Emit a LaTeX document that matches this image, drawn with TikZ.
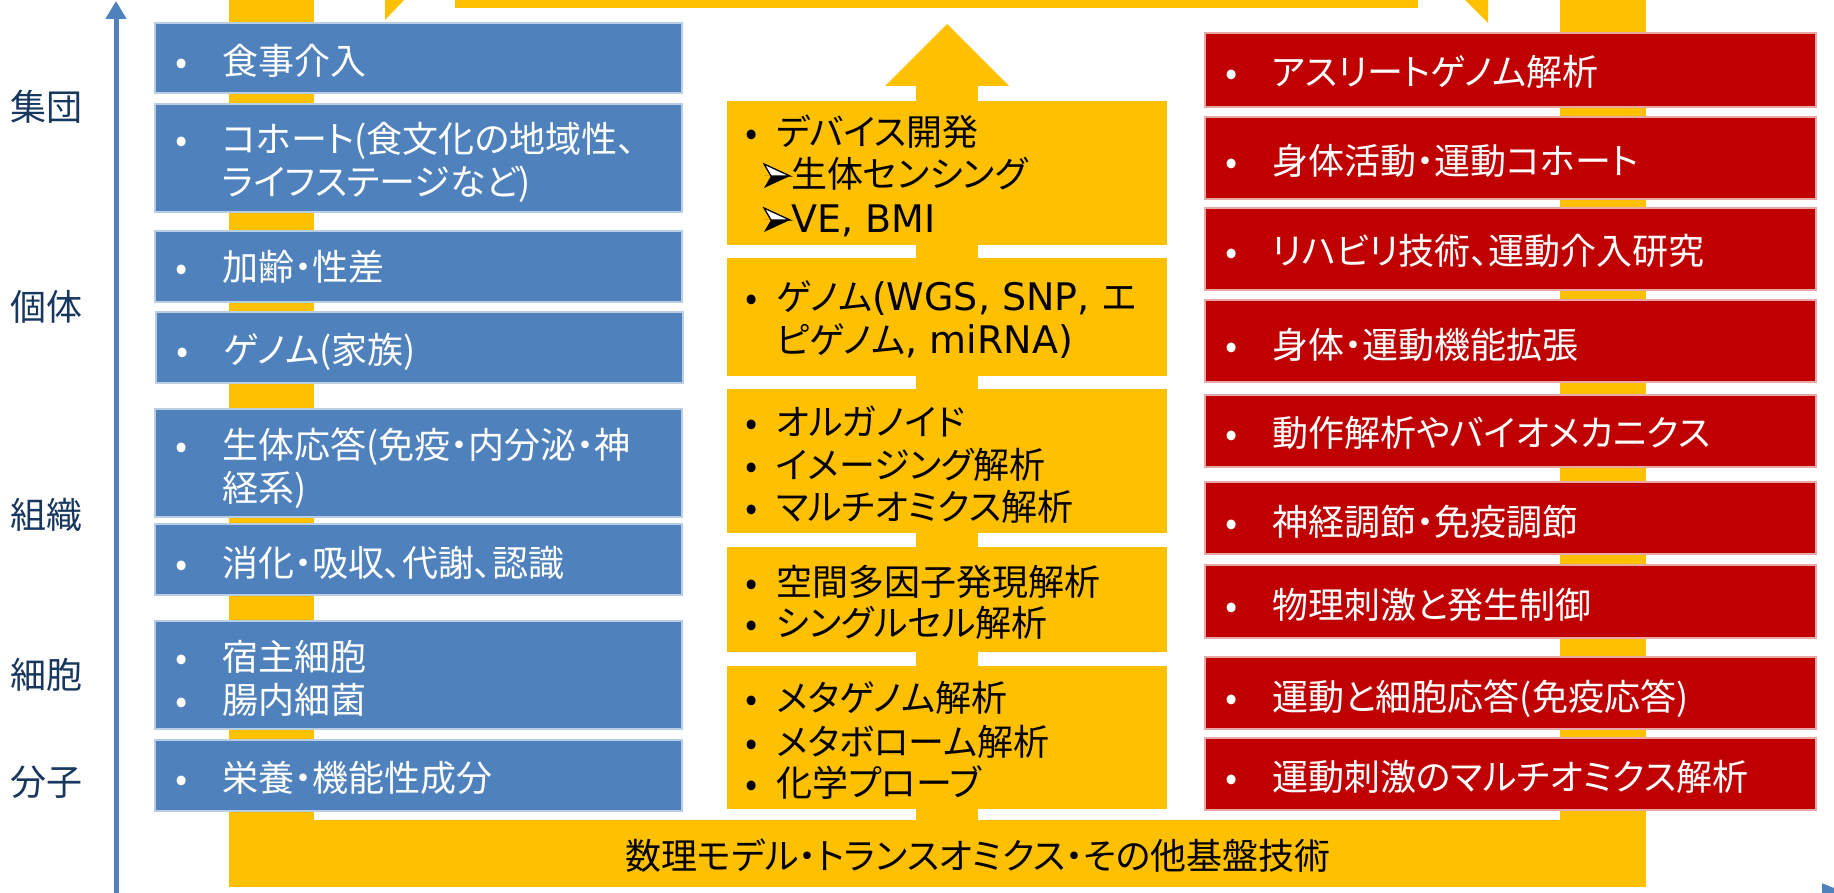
\documentclass[tikz,border=0pt]{standalone}
\usepackage{fontspec}
\setmainfont[RawFeature=+palt]{Noto Sans CJK JP}
\newfontfamily\latfont{DejaVu Sans}
\newcommand\lat[1]{{\latfont\fontsize{38}{43}\selectfont #1}}
\usetikzlibrary{arrows.meta}
\definecolor{stblue}{HTML}{4F81BD}
\definecolor{bblue}{HTML}{B9CDE5}
\definecolor{gold}{HTML}{FFC000}
\definecolor{dred}{HTML}{C00000}
\definecolor{pred}{HTML}{E8A8A8}
\definecolor{navy}{RGB}{23,55,94}
\newcommand\mybox[6]{\node[#1, minimum width={(#4)-(#2)}, minimum height={(#5)-(#3)}] (#6) at ({((#2)+(#4))/2},{((#3)+(#5))/2}) {};}
\newcommand\subarrow[2]{%
  \fill[black] (#1,#2) -- (#1+26,#2) -- (#1,#2+12) -- (#1+7,#2) -- cycle;
  \filldraw[fill=white, draw=black, line width=1.3pt, line join=miter] (#1,#2-12) -- (#1+26,#2) -- (#1+7,#2) -- cycle;}
\tikzset{
  bluebox/.style={draw=bblue, line width=1.2pt, fill=stblue, inner sep=0pt, outer sep=0pt},
  redbox/.style={draw=pred, line width=1.2pt, fill=dred, inner sep=0pt, outer sep=0pt},
  goldbox/.style={fill=gold, inner sep=0pt, outer sep=0pt},
  big/.style={font=\fontsize{36}{43}\selectfont},
  wtxt/.style={big, anchor=base west, text=white, inner sep=0pt},
  ktxt/.style={big, anchor=base west, text=black, inner sep=0pt},
  wbul/.style={big, anchor=base, text=white, inner sep=0pt},
  kbul/.style={big, anchor=base, text=black, inner sep=0pt},
  lvl/.style={big, anchor=base, text=navy, inner sep=0pt},
  axis/.style={draw=stblue, line width=5pt},
}
\begin{document}
\begin{tikzpicture}[x=1pt,y=-1pt]
\useasboundingbox (0,0) rectangle (1834,893);
% yellow frame (U shape) and central arrow
\fill[gold] (229,-3) rectangle (314,887);
\fill[gold] (1560,-3) rectangle (1646,887);
\fill[gold] (229,820) rectangle (1646,887);
\fill[gold] (916,80) rectangle (978,820);
\fill[gold] (885,86) -- (947,24) -- (1009,86) -- cycle;
% parts of the shape above the picture
\fill[gold] (385,-3) -- (407,-3) -- (385,20) -- cycle;
\fill[gold] (455,-3) rectangle (1418,8);
\fill[gold] (1462,-3) -- (1488,-3) -- (1488,23) -- cycle;
% axes
\coordinate (org) at (116,895);
\coordinate (ytop) at (116,1);
\coordinate (xend) at (1852,895);
\draw[axis, -{Triangle[length=18pt,width=20pt]}] (org) -- (ytop);
\draw[axis, -{Triangle[length=30pt,width=22pt]}] (org) -- (xend);
% level labels
\node[lvl] (l1) at (46,121) {集団};
\node[lvl] (l2) at (46,321) {個体};
\node[lvl] (l3) at (46,528) {組織};
\node[lvl] (l4) at (46,688) {細胞};
\node[lvl] (l5) at (46,795) {分子};
% blue boxes
\mybox{bluebox}{155}{23}{682}{93}{b1}
\mybox{bluebox}{155}{104}{682}{212}{b2}
\mybox{bluebox}{155}{231}{682}{302}{b3}
\mybox{bluebox}{156}{312}{683}{383}{b4}
\mybox{bluebox}{155}{409}{682}{517}{b5}
\mybox{bluebox}{155}{524}{682}{595}{b6}
\mybox{bluebox}{155}{621}{682}{729}{b7}
\mybox{bluebox}{155}{740}{682}{811}{b8}
\node[wbul] (bb1) at (182,75) {•};  \node[wtxt] (bt1) at (222,75) {食事介入};
\node[wbul] (bb2) at (182,153) {•}; \node[wtxt] (bt2) at (222,153) {コホート(食文化の地域性、};
\node[wtxt] (bt2b) at (222,196) {ライフステージなど)};
\node[wbul] (bb3) at (182,281) {•}; \node[wtxt] (bt3) at (222,281) {加齢・性差};
\node[wbul] (bb4) at (183,363) {•}; \node[wtxt] (bt4) at (223,363) {ゲノム(家族)};
\node[wbul] (bb5) at (182,458) {•}; \node[wtxt] (bt5) at (222,458) {生体応答(免疫・内分泌・神};
\node[wtxt] (bt5b) at (222,501) {経系)};
\node[wbul] (bb6) at (182,576) {•}; \node[wtxt] (bt6) at (222,576) {消化・吸収、代謝、認識};
\node[wbul] (bb7) at (182,670) {•}; \node[wtxt] (bt7) at (222,670) {宿主細胞};
\node[wbul] (bb7b) at (182,713) {•}; \node[wtxt] (bt7b) at (222,713) {腸内細菌};
\node[wbul] (bb8) at (182,791) {•}; \node[wtxt] (bt8) at (222,791) {栄養・機能性成分};
% central yellow boxes
\mybox{goldbox}{727}{101}{1167}{245}{ya}
\mybox{goldbox}{727}{258}{1167}{376}{yb}
\mybox{goldbox}{727}{389}{1167}{533}{yc}
\mybox{goldbox}{727}{547}{1167}{652}{yd}
\mybox{goldbox}{727}{666}{1167}{809}{ye}
\node[kbul] (ka1) at (752,146) {•}; \node[ktxt] (ta1) at (776,146) {デバイス開発};
\subarrow{764}{176}
\node[ktxt] (ta2) at (791,188) {生体センシング};
\subarrow{764}{220}
\node[ktxt] (ta3) at (791,233) {\lat{VE, BMI}};
\node[kbul] (kb1) at (752,311) {•}; \node[ktxt] (tb1) at (776,311) {ゲノム\lat{(WGS, SNP, }エ};
\node[ktxt] (tb2) at (776,353) {ピゲノム\lat{, miRNA)}};
\node[kbul] (kc1) at (752,435) {•}; \node[ktxt] (tc1) at (776,435) {オルガノイド};
\node[kbul] (kc2) at (752,478) {•}; \node[ktxt] (tc2) at (776,478) {イメージング解析};
\node[kbul] (kc3) at (752,520) {•}; \node[ktxt] (tc3) at (776,520) {マルチオミクス解析};
\node[kbul] (kd1) at (752,595) {•}; \node[ktxt] (td1) at (776,595) {空間多因子発現解析};
\node[kbul] (kd2) at (752,636) {•}; \node[ktxt] (td2) at (776,636) {シングルセル解析};
\node[kbul] (ke1) at (752,711) {•}; \node[ktxt] (te1) at (776,711) {メタゲノム解析};
\node[kbul] (ke2) at (752,755) {•}; \node[ktxt] (te2) at (776,755) {メタボローム解析};
\node[kbul] (ke3) at (752,796) {•}; \node[ktxt] (te3) at (776,796) {化学プローブ};
% red boxes
\mybox{redbox}{1205}{33}{1816}{107}{r1}
\mybox{redbox}{1205}{117}{1816}{199}{r2}
\mybox{redbox}{1205}{208}{1816}{290}{r3}
\mybox{redbox}{1205}{300}{1816}{382}{r4}
\mybox{redbox}{1205}{395}{1816}{467}{r5}
\mybox{redbox}{1205}{482}{1816}{554}{r6}
\mybox{redbox}{1205}{565}{1816}{638}{r7}
\mybox{redbox}{1205}{657}{1816}{729}{r8}
\mybox{redbox}{1205}{738}{1816}{810}{r9}
\node[wbul] (rb1) at (1232,86) {•};  \node[wtxt] (rt1) at (1272,86) {アスリートゲノム解析};
\node[wbul] (rb2) at (1232,175) {•}; \node[wtxt] (rt2) at (1272,175) {身体活動・運動コホート};
\node[wbul] (rb3) at (1232,265) {•}; \node[wtxt] (rt3) at (1272,265) {リハビリ技術、運動介入研究};
\node[wbul] (rb4) at (1232,358) {•}; \node[wtxt] (rt4) at (1272,358) {身体・運動機能拡張};
\node[wbul] (rb5) at (1232,446) {•}; \node[wtxt] (rt5) at (1272,446) {動作解析やバイオメカニクス};
\node[wbul] (rb6) at (1232,535) {•}; \node[wtxt] (rt6) at (1272,535) {神経調節・免疫調節};
\node[wbul] (rb7) at (1232,618) {•}; \node[wtxt] (rt7) at (1272,618) {物理刺激と発生制御};
\node[wbul] (rb8) at (1232,710) {•}; \node[wtxt] (rt8) at (1272,710) {運動と細胞応答(免疫応答)};
\node[wbul] (rb9) at (1232,790) {•}; \node[wtxt] (rt9) at (1272,790) {運動刺激のマルチオミクス解析};
% bottom band text
\node[kbul] (base) at (978,869) {数理モデル・トランスオミクス・その他基盤技術};
\end{tikzpicture}
\end{document}
